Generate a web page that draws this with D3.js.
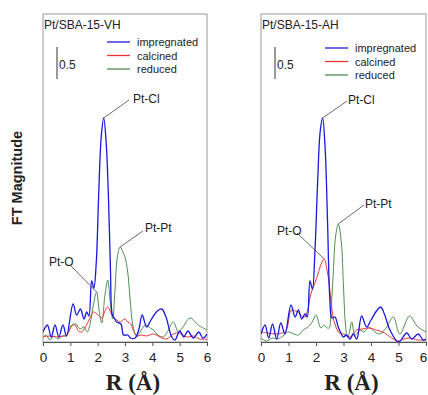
<!DOCTYPE html>
<html>
<head>
<meta charset="utf-8">
<script src="https://cdn.jsdelivr.net/npm/d3@7"></script>
<style>
  body { margin: 0; background: #fff; }
  svg { display: block; font-family: Arial, "Liberation Sans", sans-serif; }
</style>
</head>
<body>
<svg width="428" height="395"></svg>
<script>
// R (Å) and FT magnitude
const seriesNames = ["impregnated", "calcined", "reduced"];
const seriesColors = ["#1a1adf", "#ee3333", "#4f8f4f"];
const xTicks = [0, 1, 2, 3, 4, 5, 6];

const vhImpregnated = [[0,10],[0.16,17],[0.3,5],[0.44,17],[0.58,5],[0.73,17],[0.86,6],[1.1,38],[1.23,27],[1.37,33],[1.5,23],[1.6,30],[1.68,26],[1.78,61],[1.86,54],[1.95,80],[2.04,150],[2.13,205],[2.22,224],[2.31,200],[2.4,140],[2.47,70],[2.53,28],[2.6,24],[2.7,20],[2.85,18],[2.95,7],[3.1,7],[3.2,4],[3.37,4],[3.5,12],[3.63,27],[3.79,15],[3.95,22],[4.15,30],[4.34,33],[4.5,25],[4.71,5],[4.83,2],[5.0,11],[5.15,5],[5.3,11],[5.5,4],[5.7,10],[5.85,4],[6.0,8]];
const vhCalcined = [[0,5],[0.25,6],[0.49,5],[0.74,6],[0.9,8],[1.05,16],[1.17,17],[1.3,11],[1.41,10],[1.55,15],[1.72,24],[1.84,30],[1.98,28],[2.15,24],[2.25,30],[2.37,35],[2.47,30],[2.57,25],[2.7,22],[2.82,20],[3.0,23],[3.1,20],[3.21,18],[3.3,12],[3.43,6],[3.6,7],[3.79,6],[4.04,8],[4.28,5],[4.52,3],[4.77,8],[5.0,9],[5.26,5],[5.5,6],[5.74,3],[6.0,3]];
const vhReduced = [[0,5],[0.12,7],[0.25,2],[0.4,6],[0.55,3],[0.7,6],[0.85,6],[1.05,17],[1.2,18],[1.35,13],[1.5,15],[1.62,10],[1.72,18],[1.85,38],[1.96,50],[2.06,30],[2.15,19],[2.27,48],[2.37,62],[2.46,40],[2.55,23],[2.63,50],[2.72,85],[2.82,95],[2.92,90],[3.0,85],[3.1,70],[3.18,45],[3.3,15],[3.43,6],[3.55,10],[3.7,16],[3.79,17],[3.92,14],[4.05,12],[4.2,7],[4.4,5],[4.55,10],[4.77,20],[4.95,10],[5.1,14],[5.38,24],[5.68,17],[6.0,12]];

const ahImpregnated = [[0,8],[0.15,17],[0.28,4],[0.42,18],[0.57,3],[0.72,19],[0.87,8],[1.09,37],[1.24,25],[1.36,32],[1.48,23],[1.6,28],[1.68,25],[1.78,61],[1.87,53],[1.96,90],[2.06,160],[2.15,210],[2.24,224],[2.33,195],[2.42,120],[2.5,45],[2.58,24],[2.69,25],[2.81,15],[3.0,5],[3.1,7],[3.24,3],[3.35,8],[3.48,3],[3.66,26],[3.84,15],[4.0,22],[4.2,31],[4.35,35],[4.5,27],[4.69,12],[5.0,0],[5.3,9],[5.48,3],[5.72,8],[5.9,2],[6.0,3]];
const ahCalcined = [[0,10],[0.25,9],[0.55,8],[0.85,10],[0.95,14],[1.1,32],[1.25,31],[1.36,30],[1.47,26],[1.59,25],[1.7,32],[1.8,47],[1.96,59],[2.07,68],[2.19,78],[2.3,83],[2.4,72],[2.47,60],[2.54,42],[2.62,25],[2.7,17],[2.85,9],[3.0,8],[3.24,5],[3.47,12],[3.7,13],[3.89,14],[4.2,12],[4.5,9],[4.75,4],[4.98,1],[5.2,3],[5.4,4],[5.7,2],[6.0,2]];
const ahReduced = [[0,4],[0.2,1],[0.4,4],[0.6,3],[0.8,6],[0.98,10],[1.2,8],[1.36,7],[1.54,12],[1.65,14],[1.78,17],[1.9,22],[2.0,27],[2.18,14],[2.3,17],[2.4,14],[2.48,14],[2.54,30],[2.62,65],[2.71,105],[2.81,118],[2.92,100],[3.0,55],[3.07,18],[3.14,5],[3.2,8],[3.3,20],[3.42,7],[3.6,12],[3.75,10],[3.92,15],[4.1,11],[4.3,8],[4.55,14],[4.81,25],[5.05,8],[5.4,26],[5.67,16],[6.0,10]];

// values above are in 1/64 of a magnitude unit (0.5 scale bar)
const unit = 64;

const panels = [
  { title: "Pt/SBA-15-VH", left: 43, right: 207, legendY: 42,
    series: [vhImpregnated, vhCalcined, vhReduced],
    labels: [
      { text: "Pt-Cl", at: [2.22, 224], tx: 133, ty: 103, lx: 129, ly: 100 },
      { text: "Pt-Pt", at: [2.82, 95], tx: 145, ty: 232, lx: 143, ly: 231 },
      { text: "Pt-O", at: [1.96, 50], tx: 49, ty: 266, lx: 71, ly: 266 }
    ] },
  { title: "Pt/SBA-15-AH", left: 261, right: 426, legendY: 48,
    series: [ahImpregnated, ahCalcined, ahReduced],
    labels: [
      { text: "Pt-Cl", at: [2.24, 224], tx: 348, ty: 104, lx: 347, ly: 101 },
      { text: "Pt-Pt", at: [2.81, 118], tx: 365, ty: 208, lx: 364, ly: 205 },
      { text: "Pt-O", at: [2.3, 83], tx: 277, ty: 235, lx: 297, ly: 233 }
    ] }
];

const plotTop = 14, plotBottom = 342;
const svg = d3.select("svg");

panels.forEach((p, i) => {
  const x = d3.scaleLinear().domain([0, 6]).range([p.left, p.right]);
  const y = d3.scaleLinear().domain([0, (plotBottom - plotTop) / unit]).range([plotBottom, plotTop]);
  const g = svg.append("g");

  g.append("clipPath").attr("id", "clip" + i)
    .append("rect")
    .attr("x", p.left).attr("y", plotTop)
    .attr("width", p.right - p.left).attr("height", plotBottom - plotTop);

  // frame
  g.append("rect")
    .attr("x", p.left).attr("y", plotTop)
    .attr("width", p.right - p.left).attr("height", plotBottom - plotTop)
    .attr("fill", "none").attr("stroke", "#999").attr("stroke-width", 1);

  const line = d3.line()
    .x(d => x(d[0]))
    .y(d => y(d[1] / unit))
    .curve(d3.curveCatmullRom.alpha(0.5));

  // draw reduced, calcined, then impregnated on top
  [2, 1, 0].forEach(k => {
    g.append("path")
      .datum(p.series[k])
      .attr("clip-path", "url(#clip" + i + ")")
      .attr("fill", "none")
      .attr("stroke", seriesColors[k])
      .attr("stroke-width", k === 0 ? 1.3 : 1)
      .attr("d", line);
  });

  // bottom axis
  const axis = g.append("g")
    .attr("transform", `translate(0,${plotBottom})`)
    .call(d3.axisBottom(x).tickValues(xTicks).tickFormat(d3.format("d"))
      .tickSize(4).tickSizeOuter(0).tickPadding(6));
  axis.select(".domain").attr("stroke", "#555");
  axis.selectAll(".tick line").attr("stroke", "#555");
  axis.selectAll(".tick text")
    .attr("font-size", 13.5).attr("fill", "#222")
    .attr("font-family", "Arial, 'Liberation Sans', sans-serif");
  if (p.right > 420) {
    axis.selectAll(".tick text").filter(d => d === 6).attr("dx", -3);
  }

  // title
  g.append("text")
    .attr("x", p.left + 1).attr("y", 29)
    .attr("font-size", 12).attr("fill", "#222")
    .text(p.title);

  // scale bar
  const sbx = p.left + 14;
  g.append("line")
    .attr("x1", sbx).attr("x2", sbx)
    .attr("y1", 47).attr("y2", 47 + 0.5 * unit)
    .attr("stroke", "#333").attr("stroke-width", 1);
  g.append("text")
    .attr("x", sbx + 2).attr("y", 69)
    .attr("font-size", 12).attr("fill", "#222")
    .text("0.5");

  // legend
  seriesNames.forEach((name, k) => {
    const ly = p.legendY + k * 13.5;
    g.append("line")
      .attr("x1", p.left + 64).attr("x2", p.left + 87)
      .attr("y1", ly).attr("y2", ly)
      .attr("stroke", seriesColors[k]).attr("stroke-width", 1.3);
    g.append("text")
      .attr("x", p.left + 94).attr("y", ly + 4)
      .attr("font-size", 11).attr("fill", "#222")
      .text(name);
  });

  // peak labels with leader lines
  p.labels.forEach(l => {
    g.append("line")
      .attr("x1", x(l.at[0])).attr("y1", y(l.at[1] / unit))
      .attr("x2", l.lx).attr("y2", l.ly)
      .attr("stroke", "#444").attr("stroke-width", 0.8);
    g.append("text")
      .attr("x", l.tx).attr("y", l.ty)
      .attr("font-size", 12).attr("fill", "#222")
      .text(l.text);
  });

  // x title
  svg.append("text")
    .attr("x", (p.left + p.right) / 2 + 8).attr("y", 390)
    .attr("text-anchor", "middle")
    .attr("font-family", "'Liberation Serif', 'Times New Roman', serif")
    .attr("font-weight", "bold").attr("font-size", 23).attr("fill", "#222")
    .text("R (Å)");
});

svg.append("text")
  .attr("transform", "translate(22,178) rotate(-90)")
  .attr("text-anchor", "middle")
  .attr("font-weight", "bold").attr("font-size", 14.5).attr("fill", "#222")
  .text("FT Magnitude");
</script>
</body>
</html>
